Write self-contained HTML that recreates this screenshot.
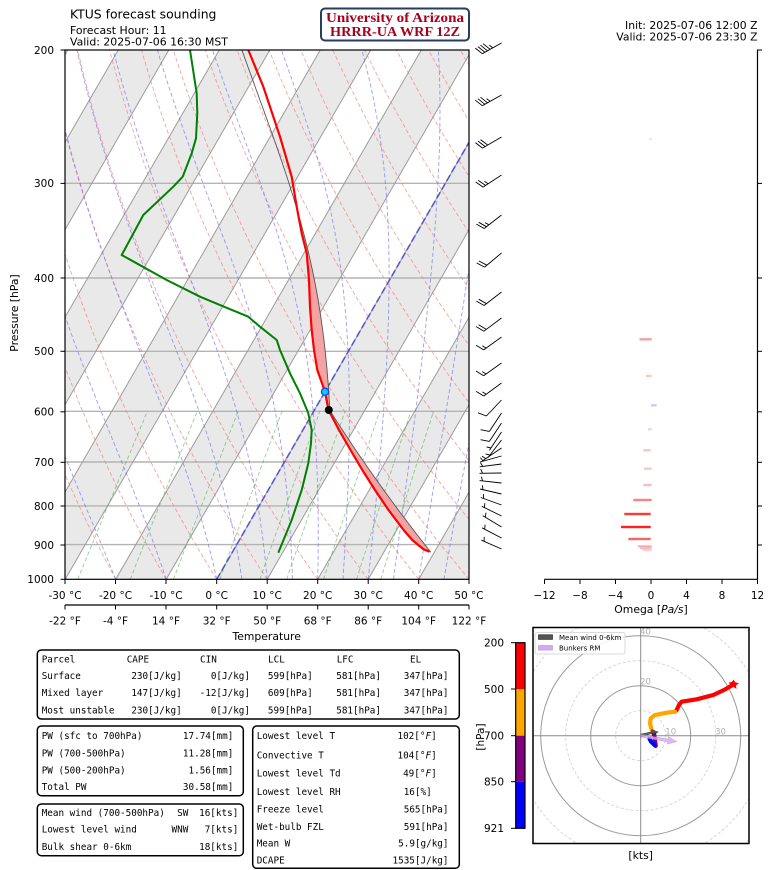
<!DOCTYPE html>
<html><head><meta charset="utf-8"><title>KTUS forecast sounding</title>
<style>
html,body{margin:0;padding:0;background:#fff;width:768px;height:870px;overflow:hidden;}
svg{display:block;}
text{font-family:"DejaVu Sans","Liberation Sans",sans-serif;fill:#000;}
.m text, text.m{font-family:"DejaVu Sans Mono","Liberation Mono",monospace;font-size:9.3px;}
.t text, text.t{font-size:10.5px;}
</style></head><body>
<svg id="S" xmlns="http://www.w3.org/2000/svg" width="768" height="870" viewBox="0 0 768 870">
<defs>
<clipPath id="cp"><rect x="65" y="50" width="404" height="529.3"/></clipPath>
<clipPath id="hc"><rect x="533" y="627.5" width="216" height="216"/></clipPath>
</defs>
<rect width="768" height="870" fill="#fff"/>

<!-- Skew-T -->
<g id="bg" clip-path="url(#cp)"></g>
<g id="fg" clip-path="url(#cp)"></g>
<rect x="65" y="50" width="404" height="529.3" fill="none" stroke="#000" stroke-width="1.2"/>
<g id="barbs"></g>

<!-- header -->
<text x="70" y="18.5" font-size="12.4">KTUS forecast sounding</text>
<text x="70" y="34" font-size="10.9">Forecast Hour: 11</text>
<text x="70" y="45.5" font-size="10.9">Valid: 2025-07-06 16:30 MST</text>
<rect x="321" y="8.5" width="148" height="32" rx="4" fill="#fff" stroke="#263c60" stroke-width="2"/>
<text x="395" y="22" font-size="13.5" text-anchor="middle" font-weight="bold" style="font-family:'Liberation Serif',serif;fill:#a8001e" textLength="138" lengthAdjust="spacingAndGlyphs">University of Arizona</text>
<text x="395" y="36" font-size="13.5" text-anchor="middle" font-weight="bold" style="font-family:'Liberation Serif',serif;fill:#a8001e" textLength="130" lengthAdjust="spacingAndGlyphs">HRRR-UA WRF 12Z</text>
<text x="757.5" y="29" font-size="10.8" text-anchor="end">Init: 2025-07-06 12:00 Z</text>
<text x="757.5" y="40.5" font-size="10.8" text-anchor="end">Valid: 2025-07-06 23:30 Z</text>

<!-- pressure axis -->
<g class="t" text-anchor="end">
<text x="54" y="53.8">200</text>
<text x="54" y="187.2">300</text>
<text x="54" y="281.8">400</text>
<text x="54" y="355.1">500</text>
<text x="54" y="415.6">600</text>
<text x="54" y="466.1">700</text>
<text x="54" y="509.8">800</text>
<text x="54" y="548.8">900</text>
<text x="54" y="583.1">1000</text>
</g>
<g stroke="#000" stroke-width="1">
<line x1="60.5" y1="50" x2="65" y2="50"/><line x1="60.5" y1="183.4" x2="65" y2="183.4"/>
<line x1="60.5" y1="278" x2="65" y2="278"/><line x1="60.5" y1="351.3" x2="65" y2="351.3"/>
<line x1="60.5" y1="411.8" x2="65" y2="411.8"/><line x1="60.5" y1="462.3" x2="65" y2="462.3"/>
<line x1="60.5" y1="506" x2="65" y2="506"/><line x1="60.5" y1="545" x2="65" y2="545"/>
<line x1="60.5" y1="579.3" x2="65" y2="579.3"/>
</g>
<text transform="translate(18,313) rotate(-90)" font-size="10.8" text-anchor="middle">Pressure [hPa]</text>

<!-- temperature axes -->
<g stroke="#000" stroke-width="1">
<line x1="65" y1="579.3" x2="65" y2="584"/><line x1="115.5" y1="579.3" x2="115.5" y2="584"/>
<line x1="166" y1="579.3" x2="166" y2="584"/><line x1="216.7" y1="579.3" x2="216.7" y2="584"/>
<line x1="267.2" y1="579.3" x2="267.2" y2="584"/><line x1="317.7" y1="579.3" x2="317.7" y2="584"/>
<line x1="368.2" y1="579.3" x2="368.2" y2="584"/><line x1="418.7" y1="579.3" x2="418.7" y2="584"/>
<line x1="469" y1="579.3" x2="469" y2="584"/>
<line x1="65" y1="605" x2="469" y2="605" stroke-width="1.2"/>
<line x1="65" y1="605" x2="65" y2="609.5"/><line x1="115.5" y1="605" x2="115.5" y2="609.5"/>
<line x1="166" y1="605" x2="166" y2="609.5"/><line x1="216.7" y1="605" x2="216.7" y2="609.5"/>
<line x1="267.2" y1="605" x2="267.2" y2="609.5"/><line x1="317.7" y1="605" x2="317.7" y2="609.5"/>
<line x1="368.2" y1="605" x2="368.2" y2="609.5"/><line x1="418.7" y1="605" x2="418.7" y2="609.5"/>
<line x1="469" y1="605" x2="469" y2="609.5"/>
</g>
<g class="t" text-anchor="middle">
<text x="65" y="598.8">-30 °C</text><text x="115.5" y="598.8">-20 °C</text><text x="166" y="598.8">-10 °C</text>
<text x="216.7" y="598.8">0 °C</text><text x="267.2" y="598.8">10 °C</text><text x="317.7" y="598.8">20 °C</text>
<text x="368.2" y="598.8">30 °C</text><text x="418.7" y="598.8">40 °C</text><text x="469" y="598.8">50 °C</text>
<text x="65" y="624.3">-22 °F</text><text x="115.5" y="624.3">-4 °F</text><text x="166" y="624.3">14 °F</text>
<text x="216.7" y="624.3">32 °F</text><text x="267.2" y="624.3">50 °F</text><text x="317.7" y="624.3">68 °F</text>
<text x="368.2" y="624.3">86 °F</text><text x="418.7" y="624.3">104 °F</text><text x="469" y="624.3">122 °F</text>
</g>
<text x="266.7" y="640" font-size="10.8" text-anchor="middle">Temperature</text>

<!-- Omega panel -->
<g>
<rect x="639.5" y="338.1" width="12.2" height="2.4" fill="rgba(230,70,70,0.5)"/>
<rect x="646" y="374.8" width="5.7" height="2.4" fill="rgba(230,70,70,0.3)"/>
<rect x="651" y="404.1" width="5.7" height="2.4" fill="rgba(80,80,230,0.3)"/>
<rect x="648" y="428.1" width="3.7" height="2.4" fill="rgba(150,150,150,0.3)"/>
<rect x="643.3" y="449.1" width="7.4" height="2.4" fill="rgba(230,70,70,0.3)"/>
<rect x="644" y="467.5" width="7.7" height="2.4" fill="rgba(230,70,70,0.3)"/>
<rect x="643.3" y="483.8" width="8.4" height="2.4" fill="rgba(230,70,70,0.35)"/>
<rect x="633.3" y="498.8" width="18.4" height="2.4" fill="rgba(240,50,50,0.6)"/>
<rect x="624.3" y="512.8" width="26.4" height="2.4" fill="rgba(255,30,30,0.88)"/>
<rect x="621" y="525.8" width="29.7" height="2.4" fill="rgba(255,20,20,0.95)"/>
<rect x="628.3" y="537.8" width="22.4" height="2.4" fill="rgba(245,40,40,0.72)"/>
<rect x="637.7" y="545.3" width="14" height="2" fill="rgba(235,70,70,0.45)"/>
<rect x="640" y="547.3" width="11.7" height="2" fill="rgba(235,70,70,0.35)"/>
<rect x="643" y="549.3" width="8.7" height="2" fill="rgba(235,70,70,0.25)"/>
<rect x="649.3" y="138" width="2.4" height="2" fill="rgba(150,150,150,0.25)"/>
</g>
<g stroke="#000" stroke-width="1.2" fill="none">
<line x1="544.5" y1="579.3" x2="757.5" y2="579.3"/>
<line x1="757.5" y1="49.5" x2="757.5" y2="579.3"/>
</g>
<g stroke="#000" stroke-width="1">
<line x1="544.5" y1="579.3" x2="544.5" y2="584"/><line x1="580" y1="579.3" x2="580" y2="584"/>
<line x1="615.5" y1="579.3" x2="615.5" y2="584"/><line x1="651" y1="579.3" x2="651" y2="584"/>
<line x1="686.5" y1="579.3" x2="686.5" y2="584"/><line x1="722" y1="579.3" x2="722" y2="584"/>
<line x1="757.5" y1="579.3" x2="757.5" y2="584"/>
<line x1="757.5" y1="50" x2="762" y2="50"/><line x1="757.5" y1="183.4" x2="762" y2="183.4"/>
<line x1="757.5" y1="278" x2="762" y2="278"/><line x1="757.5" y1="351.3" x2="762" y2="351.3"/>
<line x1="757.5" y1="411.8" x2="762" y2="411.8"/><line x1="757.5" y1="462.3" x2="762" y2="462.3"/>
<line x1="757.5" y1="506" x2="762" y2="506"/><line x1="757.5" y1="545" x2="762" y2="545"/>
</g>
<g class="t" text-anchor="middle">
<text x="544.5" y="598.8">−12</text><text x="580" y="598.8">−8</text><text x="615.5" y="598.8">−4</text>
<text x="651" y="598.8">0</text><text x="686.5" y="598.8">4</text><text x="722" y="598.8">8</text><text x="757.5" y="598.8">12</text>
</g>
<text x="651" y="613" font-size="10.8" text-anchor="middle">Omega [<tspan font-style="italic">Pa/s</tspan>]</text>

<!-- Tables -->
<g fill="none" stroke="#000" stroke-width="1.5">
<rect x="37.3" y="650" width="422" height="69" rx="4"/>
<rect x="37.3" y="726" width="206" height="69.7" rx="4"/>
<rect x="37.3" y="804" width="206" height="51.7" rx="4"/>
<rect x="252.7" y="726" width="206.6" height="142.3" rx="4"/>
</g>
<g class="m">
<text x="41.7" y="662.5">Parcel</text><text x="126.7" y="662.5">CAPE</text><text x="200" y="662.5">CIN</text>
<text x="268" y="662.5">LCL</text><text x="336.7" y="662.5">LFC</text><text x="410" y="662.5">EL</text>
<text x="41.7" y="679">Surface</text><text x="41.7" y="696">Mixed layer</text><text x="41.7" y="713.5">Most unstable</text>
</g>
<g class="m" text-anchor="end">
<text x="181.7" y="679">230[J/kg]</text><text x="250" y="679">0[J/kg]</text><text x="312.7" y="679">599[hPa]</text><text x="381" y="679">581[hPa]</text><text x="448.5" y="679">347[hPa]</text>
<text x="181.7" y="696">147[J/kg]</text><text x="250" y="696">-12[J/kg]</text><text x="312.7" y="696">609[hPa]</text><text x="381" y="696">581[hPa]</text><text x="448.5" y="696">347[hPa]</text>
<text x="181.7" y="713.5">230[J/kg]</text><text x="250" y="713.5">0[J/kg]</text><text x="312.7" y="713.5">599[hPa]</text><text x="381" y="713.5">581[hPa]</text><text x="448.5" y="713.5">347[hPa]</text>
</g>
<g class="m">
<text x="41.7" y="739">PW (sfc to 700hPa)</text><text x="41.7" y="756.6">PW (700-500hPa)</text>
<text x="41.7" y="773.3">PW (500-200hPa)</text><text x="41.7" y="790">Total PW</text>
<text x="41.7" y="816">Mean wind (700-500hPa)</text><text x="41.7" y="832.6">Lowest level wind</text><text x="41.7" y="850">Bulk shear 0-6km</text>
<text x="256.7" y="739">Lowest level T</text><text x="256.7" y="758.3">Convective T</text>
<text x="256.7" y="776.6">Lowest level Td</text><text x="256.7" y="795">Lowest level RH</text>
<text x="256.7" y="812.3">Freeze level</text><text x="256.7" y="830">Wet-bulb FZL</text>
<text x="256.7" y="846.6">Mean W</text><text x="256.7" y="863.3">DCAPE</text>
</g>
<g class="m" text-anchor="end">
<text x="233.3" y="739">17.74[mm]</text><text x="233.3" y="756.6">11.28[mm]</text>
<text x="233.3" y="773.3">1.56[mm]</text><text x="233.3" y="790">30.58[mm]</text>
<text x="188.3" y="816">SW</text><text x="188.3" y="832.6">WNW</text>
<text x="238.3" y="816">16[kts]</text><text x="238.3" y="832.6">7[kts]</text><text x="238.3" y="850">18[kts]</text>
<text x="436.7" y="739">102[°<tspan font-style="italic">F</tspan>]</text>
<text x="436.7" y="758.3">104[°<tspan font-style="italic">F</tspan>]</text>
<text x="436.7" y="776.6">49[°<tspan font-style="italic">F</tspan>]</text>
<text x="431.7" y="795">16[%]</text>
<text x="448.5" y="812.3">565[hPa]</text><text x="448.5" y="830">591[hPa]</text>
<text x="448.5" y="846.6">5.9[g/kg]</text><text x="448.5" y="863.3">1535[J/kg]</text>
</g>

<!-- Hodograph colorbar -->
<rect x="515.7" y="642.7" width="9.3" height="46.3" fill="#ff0000"/>
<rect x="515.7" y="689" width="9.3" height="46.7" fill="#ffa500"/>
<rect x="515.7" y="735.7" width="9.3" height="46" fill="#800080"/>
<rect x="515.7" y="781.7" width="9.3" height="46.6" fill="#0000ff"/>
<rect x="515.7" y="642.7" width="9.3" height="185.6" fill="none" stroke="#000" stroke-width="1.2"/>
<g stroke="#000" stroke-width="1">
<line x1="511" y1="642.7" x2="515.7" y2="642.7"/><line x1="511" y1="689" x2="515.7" y2="689"/>
<line x1="511" y1="735.7" x2="515.7" y2="735.7"/><line x1="511" y1="781.7" x2="515.7" y2="781.7"/>
<line x1="511" y1="828.3" x2="515.7" y2="828.3"/>
</g>
<g class="t" text-anchor="end">
<text x="504" y="646.5">200</text><text x="504" y="692.8">500</text><text x="504" y="739.5">700</text>
<text x="504" y="785.5">850</text><text x="504" y="832.1">921</text>
</g>
<text transform="translate(484,737) rotate(-90)" font-size="10.5" text-anchor="middle">[hPa]</text>

<!-- Hodograph -->
<rect x="533" y="627.5" width="216" height="216" fill="#fff"/>
<g clip-path="url(#hc)">
<circle cx="640.7" cy="735.7" r="25" fill="none" stroke="#cfcfcf" stroke-width="0.8" stroke-dasharray="3 2"/>
<circle cx="640.7" cy="735.7" r="50" fill="none" stroke="#9a9a9a" stroke-width="1"/>
<circle cx="640.7" cy="735.7" r="75" fill="none" stroke="#cfcfcf" stroke-width="0.8" stroke-dasharray="3 2"/>
<circle cx="640.7" cy="735.7" r="100" fill="none" stroke="#9a9a9a" stroke-width="1"/>
<circle cx="640.7" cy="735.7" r="125" fill="none" stroke="#cfcfcf" stroke-width="0.8" stroke-dasharray="3 2"/>
<circle cx="640.7" cy="735.7" r="150" fill="none" stroke="#cfcfcf" stroke-width="0.8" stroke-dasharray="3 2"/>
<line x1="533" y1="735.7" x2="749" y2="735.7" stroke="#8a8a8a" stroke-width="1"/>
<line x1="640.7" y1="627.5" x2="640.7" y2="843.5" stroke="#8a8a8a" stroke-width="1"/>
<g font-size="8.5" text-anchor="middle">
<text x="670.7" y="734.5" style="fill:#b0b0b0">10</text>
<text x="645.5" y="684.5" style="fill:#b0b0b0">20</text>
<text x="720.5" y="734.5" style="fill:#b0b0b0">30</text>
<text x="645.5" y="634.5" style="fill:#b0b0b0">40</text>
</g>
<polyline points="734,684 725,689.5 713.3,695 696.7,699.3 681.7,701.7 679,705 676.7,710 675,711.7" fill="none" stroke="#ff0000" stroke-width="4.2" stroke-linejoin="round" stroke-linecap="round"/>
<path d="M733.5,679.5 L735.5,682.5 L739,683 L736,685.5 L736.5,689 L733.5,687 L730.5,688.5 L731,685 L728.5,682.5 L732,682Z" fill="#ff0000"/>
<polyline points="675,711.7 666.7,712.7 655,715 650.7,718.3 650,723.3 651.7,730 653.3,733.3" fill="none" stroke="#ffa500" stroke-width="4.2" stroke-linejoin="round" stroke-linecap="round"/>
<polyline points="654,733.3 655,740 655.7,746" fill="none" stroke="#800080" stroke-width="4.2" stroke-linejoin="round" stroke-linecap="round"/>
<polyline points="654.5,745 651,741.5 649.5,738.5" fill="none" stroke="#0000ff" stroke-width="4.2" stroke-linejoin="round" stroke-linecap="round"/>
<path d="M640.7,734.2 L652,731.8 L651.5,729.5 L658,732 L652.3,735.3 L652,733.2 L640.7,737.2Z" fill="#555" stroke="#111" stroke-width="0.6" opacity="0.85"/>
<path d="M640.7,734.5 L668,739 L668.5,736.6 L677,741.7 L667.3,744.2 L667.6,741.8 L640.7,737Z" fill="#d4a8ec" stroke="#c090e0" stroke-width="0.5" opacity="0.8"/>
<rect x="535" y="632.5" width="90" height="21.5" rx="2" fill="#fff" fill-opacity="0.85" stroke="#d0d0d0" stroke-width="0.8"/>
<rect x="538.5" y="634.8" width="14" height="4.6" fill="#555" stroke="#111" stroke-width="0.6"/>
<rect x="538.5" y="645.5" width="14" height="4.6" fill="#d4a8ec" stroke="#c090e0" stroke-width="0.6"/>
<text x="559" y="639.8" font-size="7">Mean wind 0-6km</text>
<text x="559" y="650.3" font-size="7">Bunkers RM</text>
</g>
<rect x="533" y="627.5" width="216" height="216" fill="none" stroke="#000" stroke-width="1.5"/>
<text x="640.7" y="859" font-size="10.8" text-anchor="middle">[kts]</text>
</svg>

<script>
(function(){
var NS='http://www.w3.org/2000/svg';
function el(parent,tag,attrs){var e=document.createElementNS(NS,tag);for(var k in attrs)e.setAttribute(k,attrs[k]);parent.appendChild(e);return e;}
var L5=Math.log(5);
function Y(p){return 50+529.3*Math.log(p/200)/L5;}
function X(T,p){return 216.7+5.05*T+0.5774*(579.3-Y(p));}
function P(y){return 200*Math.exp((y-50)/529.3*L5);}
function path(pts){var s='';for(var i=0;i<pts.length;i++){s+=(i?'L':'M')+pts[i][0].toFixed(1)+' '+pts[i][1].toFixed(1);}return s;}
var bg=document.getElementById('bg'), fg=document.getElementById('fg');
var T,i,p,pts;
for(T=-160;T<=40;T+=20){
  pts=[[X(T,1000),Y(1000)],[X(T+10,1000),Y(1000)],[X(T+10,200),Y(200)],[X(T,200),Y(200)]];
  el(bg,'path',{d:path(pts)+'Z',fill:'#e9e9e9'});
}
[300,400,500,600,700,800,900].forEach(function(pp){
  el(bg,'line',{x1:65,x2:469,y1:Y(pp).toFixed(1),y2:Y(pp).toFixed(1),stroke:'#b4b4b4','stroke-width':1.4});
});
for(T=-160;T<=50;T+=10){
  el(bg,'path',{d:path([[X(T,1000),Y(1000)],[X(T,200),Y(200)]]),stroke:'#9c9c9c','stroke-width':1,fill:'none'});
}
for(var t0=-40;t0<=200;t0+=10){
  var th=t0+273.15; pts=[];
  for(p=1000;p>=200;p-=10){pts.push([X(th*Math.pow(p/1000,0.2857)-273.15,p),Y(p)]);}
  el(bg,'path',{d:path(pts),stroke:'#ee7c7c','stroke-width':0.9,fill:'none','stroke-dasharray':'4 2.5','stroke-opacity':0.7});
}
function es(Tc){return 6.112*Math.exp(17.67*Tc/(Tc+243.5));}
function dTdp(p,T){var e=es(T-273.15);var rs=0.622*e/(p-e);return (287.04*T+2.501e6*rs)/(p*(1005.7+2.501e6*2.501e6*rs*0.622/(287.04*T*T)));}
function moist(T0,p0,p1,n){var T=T0+273.15,p=p0,h=(p1-p0)/n,out=[[p,T0]];for(var i=0;i<n;i++){var k1=dTdp(p,T),k2=dTdp(p+h/2,T+h/2*k1),k3=dTdp(p+h/2,T+h/2*k2),k4=dTdp(p+h,T+h*k3);T+=h/6*(k1+2*k2+2*k3+k4);p+=h;out.push([p,T-273.15]);}return out;}
[-40,-30,-20,-10,0,5,10,15,20,25,30,35,40,45,50].forEach(function(t0){
  var m=moist(t0,1000,200,160);
  el(bg,'path',{d:path(m.map(function(a){return [X(a[1],a[0]),Y(a[0])];})),stroke:'#6a6ae8','stroke-width':0.9,fill:'none','stroke-dasharray':'4 2.5','stroke-opacity':0.65});
});
[0.0004,0.001,0.002,0.004,0.007,0.01,0.016,0.024,0.032].forEach(function(w){
  pts=[];
  for(p=1000;p>=600;p-=10){var e=w*p/(0.622+w);var l=Math.log(e/6.112);var td=243.5*l/(17.67-l);pts.push([X(td,p),Y(p)]);}
  el(bg,'path',{d:path(pts),stroke:'#4caf4c','stroke-width':0.9,fill:'none','stroke-dasharray':'4 2.5','stroke-opacity':0.6});
});
el(bg,'path',{d:path([[X(0,1000),Y(1000)],[X(0,200),Y(200)]]),stroke:'#4040d8','stroke-width':1.6,fill:'none','stroke-dasharray':'7 3','stroke-opacity':0.8});

var env=[[248.3,50],[263.3,86.7],[280,136.7],[291.7,176.7],[296.7,206.7],[301.7,233.3],[306.7,253.3],[309,280],[310,306.7],[311.7,330],[314,350],[317.3,370],[325,391.7],[328.5,410],[339,430],[350.5,450],[362.3,470],[375,490],[388.5,510],[403.6,530],[412.3,540],[419.5,546],[424,549.5],[429.6,551.7]];
var dew=[[190,50],[196.7,93.3],[197.3,113.3],[196,138.3],[191.7,153.3],[182.7,176.7],[173.3,186.7],[143.3,215],[121.7,255],[166.7,280],[200,296.7],[224,306.7],[248.3,316.7],[260,326.7],[276.7,340],[280,350],[290,373.3],[300,393.3],[308.3,413.3],[311.7,430],[311,443.3],[308.3,463.3],[301.7,490],[291.7,520],[278.3,552.7]];
function interp(arr,y){for(var i=0;i<arr.length-1;i++){if(y>=arr[i][1]&&y<=arr[i+1][1]){var f=(y-arr[i][1])/(arr[i+1][1]-arr[i][1]);return arr[i][0]+f*(arr[i+1][0]-arr[i][0]);}}return null;}
var Ts=39.3, ps=921, thp=(Ts+273.15)*Math.pow(1000/ps,0.2857), plcl=598.5;
var par=[];
for(p=ps;p>plcl;p-=2){par.push([X(thp*Math.pow(p/1000,0.2857)-273.15,p),Y(p)]);}
var Tl=thp*Math.pow(plcl/1000,0.2857)-273.15;
moist(Tl,plcl,200,400).forEach(function(a){par.push([X(a[1],a[0]),Y(a[0])]);});
var parUp=par.slice().reverse();
var A=[],B=[];
function flush(){if(A.length>2){el(fg,'path',{d:path(A.concat(B.reverse()))+'Z',fill:'#f2a0a0','fill-opacity':0.95});}A=[];B=[];}
for(var y=551.7;y>=50;y-=0.5){
  var px=interp(parUp,y), ex=interp(env,y);
  if(px!==null&&ex!==null&&px>ex){A.push([px,y]);B.push([ex,y]);} else flush();
}
flush();
el(fg,'path',{d:path(par),stroke:'#555','stroke-width':0.9,fill:'none'});
el(fg,'path',{d:path(env),stroke:'#ff0000','stroke-width':2.2,fill:'none','stroke-linejoin':'round'});
el(fg,'path',{d:path(dew),stroke:'#008000','stroke-width':2,fill:'none','stroke-linejoin':'round'});
el(fg,'circle',{cx:328.8,cy:410,r:4,fill:'#000'});
el(fg,'circle',{cx:325,cy:391.7,r:3.6,fill:'#10c8f0',stroke:'#1040ff','stroke-width':1.2});

var wp=[[200,37.3,20.7],[250,29,16.3],[300,21,14.3],[350,15.7,13.6],[400,15,11.9],[500,13.5,9.5],[550,10.4,7.6],[600,5,7.6],[650,3.7,5.6],[680,4.4,1.6],[700,5.2,0.8],[775,6,-1.5],[850,6,-3.7],[921,6.5,-2.7]];
function wind(p){for(var i=0;i<wp.length-1;i++){if(p>=wp[i][0]&&p<=wp[i+1][0]){var f=(p-wp[i][0])/(wp[i+1][0]-wp[i][0]);return [wp[i][1]+f*(wp[i+1][1]-wp[i][1]),wp[i][2]+f*(wp[i+1][2]-wp[i][2])];}}return p<200?[wp[0][1],wp[0][2]]:[wp[wp.length-1][1],wp[wp.length-1][2]];}
var bgb=document.getElementById('barbs');
function barb(x,y,u,v){
  var s=Math.sqrt(u*u+v*v); if(s<0.1)return;
  var r=Math.round(s/5)*5, L=22, dx=-u/s, dy=v/s, px=-dy, py=dx;
  var tx=x+L*dx, ty=y+L*dy;
  var d='M'+x.toFixed(1)+' '+y.toFixed(1)+'L'+tx.toFixed(1)+' '+ty.toFixed(1);
  var n10=Math.floor(r/10), n5=(r%10)>=5?1:0, pos=0, sp=3, fl=9;
  var fx=px*0.92+dx*0.38, fy=py*0.92+dy*0.38;
  for(var i=0;i<n10;i++){var bx=tx-pos*dx,by=ty-pos*dy;d+='M'+bx.toFixed(1)+' '+by.toFixed(1)+'L'+(bx+fl*fx).toFixed(1)+' '+(by+fl*fy).toFixed(1);pos+=sp;}
  if(n5){if(n10===0)pos=sp;var bx2=tx-pos*dx,by2=ty-pos*dy;d+='M'+bx2.toFixed(1)+' '+by2.toFixed(1)+'L'+(bx2+fl*0.5*fx).toFixed(1)+' '+(by2+fl*0.5*fy).toFixed(1);}
  el(bgb,'path',{d:d,stroke:'#000','stroke-width':0.9,fill:'none'});
}
[43,95,137,175,215,253,292,318,337,363,383,400,413,423,432,440,448,456,464,473,483,494,505,516,527,538,549].forEach(function(y){var w=wind(P(y));barb(501.5,y,w[0],w[1]);});
})();
</script>
</body></html>
